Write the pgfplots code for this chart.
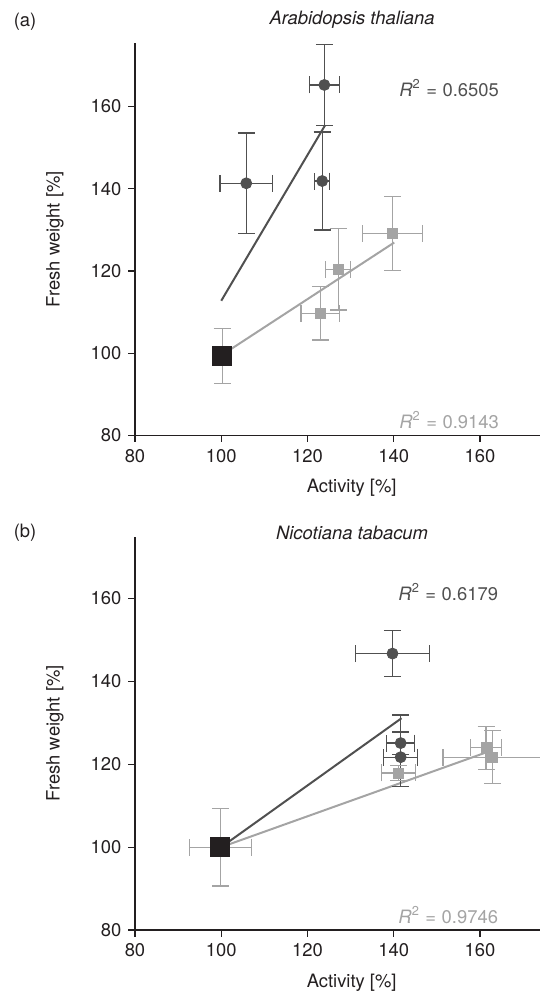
\documentclass[border=0pt]{standalone}
\usepackage{fontspec}
\setmainfont{TeX Gyre Heros}
\usepackage{pgfplots}
\pgfplotsset{compat=1.18}

\definecolor{darkg}{HTML}{505050}
\definecolor{lightg}{HTML}{A4A4A4}
\definecolor{blk}{HTML}{231F20}

\newcommand{\fs}{\fontsize{9.2}{10}\selectfont}
\newcommand{\rsq}[1]{\textit{R}\textsuperscript{2}\hspace{0.3em}=\hspace{0.3em}#1}

\pgfplotsset{
  panel/.style={
    scale only axis,
    width=202.5pt, height=196.25pt,
    xmin=80, xmax=173.9, ymin=80, ymax=175.4,
    axis lines=left,
    axis line style={-, blk, line width=0.6pt},
    tick style={blk, line width=0.6pt},
    tick align=outside,
    major tick length=3.25pt,
    xtick={80,100,...,160}, ytick={80,100,...,160},
    /pgf/number format/assume math mode=true,
    tick label style={font=\fs, blk},
    label style={font=\fs, blk},
    xlabel={Activity [\%]}, ylabel={Fresh weight [\%]},
    xlabel style={at={(axis description cs:0.535,-0.1338)}, anchor=center},
    ylabel style={at={(axis description cs:-0.1975,0.5)}, anchor=center},
    clip mode=individual,
  },
  circ/.style={only marks, mark=*, mark size=2.75pt, darkg,
    mark options={draw=darkg, fill=darkg},
    error bars/.cd, x dir=both, x explicit, y dir=both, y explicit,
    error bar style={darkg, line width=0.6pt},
    error mark options={rotate=90, darkg, line width=0.6pt, mark size=4.25pt}},
  sq/.style={only marks, mark=square*, mark size=2.5pt, lightg,
    mark options={draw=lightg, fill=lightg},
    error bars/.cd, x dir=both, x explicit, y dir=both, y explicit,
    error bar style={lightg, line width=0.6pt},
    error mark options={rotate=90, lightg, line width=0.6pt, mark size=4.25pt}},
  ctrl/.style={only marks, mark=square*, mark size=4.75pt, blk,
    mark options={draw=blk, fill=blk},
    error bars/.cd, x dir=both, x explicit, y dir=both, y explicit,
    error bar style={lightg, line width=0.6pt},
    error mark options={rotate=90, lightg, line width=0.6pt, mark size=4.25pt}},
}

\begin{document}
\begin{tikzpicture}
\path[use as bounding box] (-67.5pt,-31pt) rectangle (202.5pt,465pt);

% (a) Arabidopsis thaliana
\begin{axis}[panel, at={(0pt,247.25pt)}, anchor=south west]
\addplot[darkg, line width=1pt] coordinates {(100,112.75) (124.1,155.45)};
\addplot[lightg, line width=1pt] coordinates {(100.2,99.6) (140.1,126.9)};
\addplot[circ] coordinates {
  (105.8,141.3) +- (6.1,12.2)
  (123.9,165.2) +- (3.5,9.8)
  (123.4,141.85) +- (1.7,11.9)
};
\addplot[sq] coordinates {
  (127.1,120.4) +- (2.9,9.9)
  (123.0,109.7) +- (4.5,6.5)
  (139.75,129.1) +- (7.0,9.0)
};
\addplot[ctrl, x dir=none] coordinates {(100.2,99.3) +- (0,6.7)};
\node[anchor=east, darkg, font=\fs] at (axis cs:166,164.4) {\rsq{0.6505}};
\node[anchor=east, lightg, font=\fs] at (axis cs:166,83.8) {\rsq{0.9143}};
\node[font=\fs\itshape, blk] at (axis description cs:0.536,1.0586) {Arabidopsis thaliana};
\node[font=\fs, blk] at (axis description cs:-0.2716,1.0535) {(a)};
\end{axis}

% (b) Nicotiana tabacum
\begin{axis}[panel, height=196.65pt, ymax=174.9, at={(0pt,0pt)}, anchor=south west]
\addplot[darkg, line width=1pt] coordinates {(100,100) (141.8,131.1)};
\addplot[lightg, line width=1pt] coordinates {(100,100) (161.55,122.9)};
\addplot[circ] coordinates {
  (139.7,146.7) +- (8.5,5.5)
  (141.6,125.1) +- (3.2,2.7)
  (141.6,121.7) += (3.9,10.2) -= (3.9,7.0)
};
\addplot[sq] coordinates {
  (141.1,117.9) +- (4.0,1.8)
  (161.4,124.0) +- (3.6,5.2)
  (162.9,121.7) +- (11.5,6.4)
};
\addplot[ctrl] coordinates {(99.8,100) +- (7.2,9.4)};
\node[anchor=east, darkg, font=\fs] at (axis cs:165.8,161.6) {\rsq{0.6179}};
\node[anchor=east, lightg, font=\fs] at (axis cs:165.8,83.6) {\rsq{0.9746}};
\node[font=\fs\itshape, blk] at (axis description cs:0.536,1.0094) {Nicotiana tabacum};
\node[font=\fs, blk] at (axis description cs:-0.2716,1.0094) {(b)};
\end{axis}
\end{tikzpicture}
\end{document}
